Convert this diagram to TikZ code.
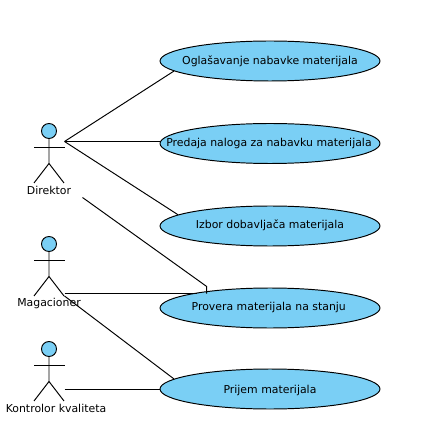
\documentclass[tikz,border=0pt]{standalone}
\usepackage{fontspec}
\setmainfont{DejaVu Sans}
\usetikzlibrary{shapes.geometric}
\usepackage{xcolor}
\definecolor{ucblue}{HTML}{7ACFF5}

\tikzset{
  usecase/.style={ellipse, draw=black, fill=ucblue, line width=0.55pt, minimum width=4.4cm, minimum height=0.8cm, inner sep=0pt, text height=4.2pt, text depth=1.2pt, font=\fontsize{6.2}{7}\selectfont},
  actorlabel/.style={inner sep=0pt, font=\fontsize{6.2}{7}\selectfont},
  actorhead/.style={circle, draw=black, fill=ucblue, line width=0.55pt, minimum size=0.3cm, inner sep=0pt},
  assoc/.style={black, line width=0.55pt}
}

\begin{document}
\begin{tikzpicture}[x=0.02cm,y=-0.02cm]
\useasboundingbox (0,0) rectangle (420,438);

% use cases
\node[usecase] (oglasavanje) at (270,61) {\makebox[0pt]{\raisebox{-0.4pt}{Oglašavanje nabavke materijala}}};
\node[usecase] (predaja) at (270,143.5) {\makebox[0pt]{\hspace*{-1.2pt}Predaja naloga za nabavku materijala}};
\node[usecase] (izbor) at (270,226) {\makebox[0pt]{Izbor dobavljača materijala}};
\node[usecase] (provera) at (270,308) {\makebox[0pt]{\hspace*{-1.4pt}Provera materijala na stanju}};
\node[usecase] (prijem) at (270,389) {\makebox[0pt]{\raisebox{-0.8pt}{Prijem materijala}}};

% actors
\foreach \name/\y/\lx/\lbl in {direktor/131/49/Direktor, magacioner/244/49/Magacioner, kontrolor/349/56/Kontrolor kvaliteta}
{
\node[actorhead] (\name) at (49,\y) {};
\draw[assoc] (\name.south) -- ++(0,24.5) coordinate (\name hip) -- ++(-15,19.5);
\draw[assoc] (\name hip) -- ++(15,19.5);
\draw[assoc] (34,\y+16.3) -- (64.5,\y+16.3);
\node[actorlabel] (\name label) at (\lx,\y+59.5) {\lbl};
}

% free ends
\coordinate (direktorR) at (64.5,141.5);
\coordinate (direktorL) at (82.5,197.5);
\coordinate (proveraK) at (206.7,286.5);
\coordinate (magacionerR) at (64.5,293.5);
\coordinate (magacionerD) at (64.5,296);
\coordinate (kontrolorR) at (64.5,389);

% associations
\draw[assoc] (direktorR) -- (oglasavanje.186.06);
\draw[assoc] (direktorR) -- (direktorR -| predaja.west);
\draw[assoc] (direktorR) -- (izbor.173.94);
\draw[assoc] (direktorL) -- (proveraK) -- (proveraK |- magacionerR);
\draw[assoc] (magacionerR) -- (magacionerR -| provera.168.4);
\draw[assoc] (magacionerD) -- (prijem.174.7);
\draw[assoc] (kontrolorR) -- (prijem.west);

\end{tikzpicture}
\end{document}
